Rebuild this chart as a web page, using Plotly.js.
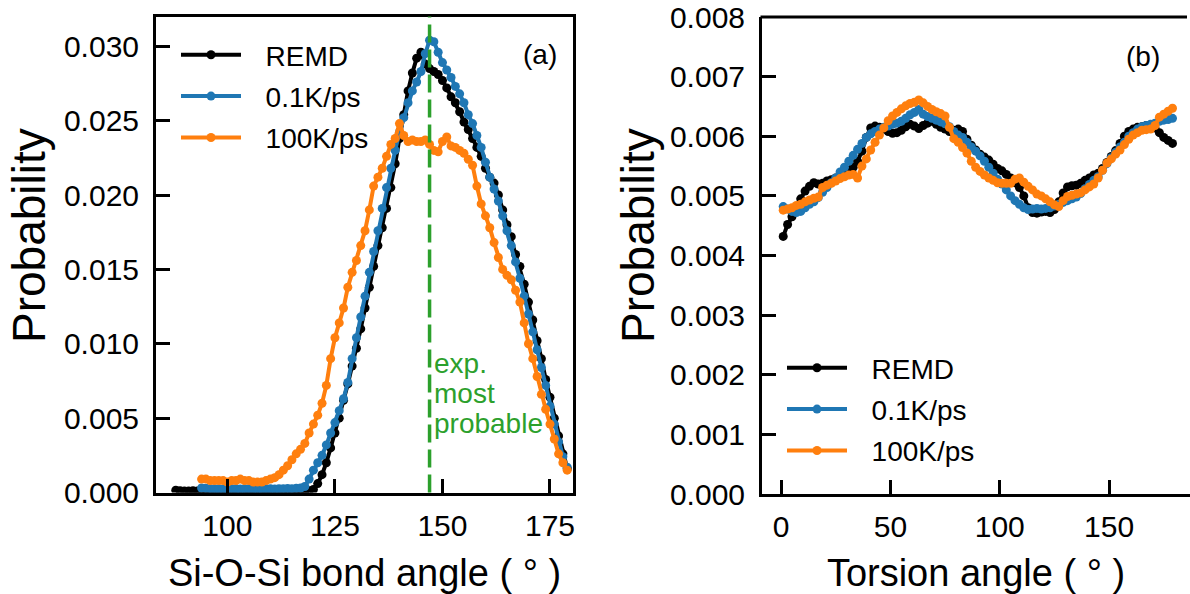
<!DOCTYPE html>
<html><head><meta charset="utf-8">
<script src="https://cdn.plot.ly/plotly-3.0.1.min.js"></script>
<style>html,body{margin:0;padding:0;background:#fff}#chart{width:1190px;height:594px}</style>
</head><body><div id="chart"></div><script>
// ---------- data ----------
const seriesNames = ['REMD', '0.1K/ps', '100K/ps'];
const seriesColors = ['#000000', '#1f77b4', '#ff7f0e'];
const expMostProbableAngle = 147;

// (a) Si-O-Si bond angle distribution
const bondAngleREMD = [88,89,90,91,92,93,94,95,96,97,98,99,100,101,102,103,104,105,106,107,108,109,110,111,112,113,114,115,116,117,118,119,120,121,122,123,124,125,126,127,128,129,130,131,132,133,134,135,136,137,138,139,140,141,142,143,144,145,146,147,148,149,150,151,152,153,154,155,156,157,158,159,160,161,162,163,164,165,166,167,168,169,170,171,172,173,174,175,176,177,178,179];
const probBondREMD = [0.00015,0.00012,0.0001,0.0001,0.00011,0.0001,
  0.0001,0.00009,0.0001,0.00011,0.0001,0.00009,0.0001,0.0001,0.00011,0.0001,0.00009,0.0001,0.0001,0.0001,0.00011,0.0001,0.00009,0.0001,0.0001,0.00011,0.0001,0.0001,0.00009,0.0001,0.0001,0.00011,
  0.0002,0.0006,0.0012,0.0020,0.0030,0.0040,0.0050,0.0062,0.0073,0.0085,
  0.0097,0.0110,0.0124,0.0138,0.0152,0.0166,0.0178,0.0191,0.0205,0.0221,
  0.0238,0.0254,0.0270,0.0282,0.0292,0.0296,0.0288,0.0285,0.0283,0.0281,
  0.0277,0.0272,0.0266,0.0262,0.0256,0.0249,0.0244,0.0238,0.0232,0.0226,
  0.0218,0.0212,0.0208,0.0200,0.0190,0.0180,0.0172,0.0160,0.0152,0.0140,
  0.0128,0.0116,0.0102,0.0090,0.0076,0.0064,0.0050,0.0038,0.0026,0.0016];

const bondAngleRun = [94,95,96,97,98,99,100,101,102,103,104,105,106,107,108,109,110,111,112,113,114,115,116,117,118,119,120,121,122,123,124,125,126,127,128,129,130,131,132,133,134,135,136,137,138,139,140,141,142,143,144,145,146,147,148,149,150,151,152,153,154,155,156,157,158,159,160,161,162,163,164,165,166,167,168,169,170,171,172,173,174,175,176,177,178,179];
const probBondSlow = [0.0003,0.00028,0.00026,0.00025,0.00025,0.00024,0.00025,0.00026,0.00025,0.00024,0.00025,0.00026,0.00025,0.00024,0.00025,0.00026,0.00025,0.00024,0.00025,0.00026,0.00027,0.00026,0.00028,0.0003,
  0.0004,0.0009,0.0015,0.0020,0.0025,0.0032,0.0040,0.0047,0.0055,0.0063,0.0074,0.0090,
  0.0104,0.0118,0.0132,0.0148,0.0162,0.0176,0.0191,0.0205,0.0218,0.0230,
  0.0242,0.0252,0.0262,0.0270,0.0276,0.0283,0.0295,0.0304,0.0303,0.0296,
  0.0289,0.0284,0.0279,0.0273,0.0268,0.0262,0.0254,0.0248,0.0240,0.0232,
  0.0222,0.0212,0.0204,0.0196,0.0186,0.0176,0.0166,0.0155,0.0144,0.0132,
  0.0120,0.0108,0.0096,0.0084,0.0072,0.0058,0.0046,0.0034,0.0024,0.0017];
const probBondFast = [0.0009,0.0009,0.0008,0.0008,0.0008,0.0008,0.0007,0.0008,0.0008,0.0009,
  0.0008,0.0008,0.0007,0.0007,0.0007,0.0008,0.0009,0.0010,0.0012,0.0015,
  0.0018,0.0022,0.0026,0.0029,0.0033,0.0040,0.0046,0.0052,0.0060,0.0072,
  0.0090,0.0104,0.0114,0.0124,0.0138,0.0148,0.0156,0.0166,0.0176,0.0190,
  0.0206,0.0212,0.0218,0.0226,0.0234,0.0238,0.0248,0.0240,0.0236,0.0237,
  0.0236,0.0236,0.0237,0.0234,0.0230,0.0229,0.0236,0.0239,0.0233,0.0232,
  0.0230,0.0228,0.0224,0.0220,0.0206,0.0194,0.0186,0.0178,0.0168,0.0158,
  0.0150,0.0146,0.0143,0.0136,0.0128,0.0114,0.0100,0.0090,0.0078,0.0066,
  0.0056,0.0046,0.0036,0.0026,0.0020,0.0015];

// (b) torsion angle distribution
const torsionAngle = [1,3,5,7,9,11,13,15,17,19,21,23,25,27,29,31,33,35,37,39,41,43,45,47,49,51,53,55,57,59,61,63,65,67,69,71,73,75,77,79,81,83,85,87,89,91,93,95,97,99,101,103,105,107,109,111,113,115,117,119,121,123,125,127,129,131,133,135,137,139,141,143,145,147,149,151,153,155,157,159,161,163,165,167,169,171,173,175,177,179];
const probTorsREMD = [0.00432,0.00452,0.00465,0.00482,0.00495,0.00508,0.00516,0.00522,0.00520,0.00521,
  0.00525,0.00527,0.00530,0.00534,0.00538,0.00543,0.00548,0.00558,0.00575,0.00598,
  0.00614,0.00617,0.00615,0.00612,0.00608,0.00605,0.00606,0.00610,0.00616,0.00620,
  0.00617,0.00613,0.00618,0.00622,0.00625,0.00620,0.00615,0.00612,0.00608,0.00610,
  0.00612,0.00608,0.00595,0.00585,0.00577,0.00570,0.00565,0.00560,0.00553,0.00546,
  0.00542,0.00536,0.00530,0.00522,0.00514,0.00500,0.00480,0.00472,0.00471,0.00473,
  0.00474,0.00472,0.00477,0.00490,0.00505,0.00515,0.00517,0.00518,0.00521,0.00526,
  0.00530,0.00535,0.00538,0.00546,0.00556,0.00566,0.00576,0.00588,0.00600,0.00608,
  0.00612,0.00615,0.00616,0.00618,0.00615,0.00614,0.00606,0.00598,0.00593,0.00588];
const probTorsSlow = [0.00482,0.00478,0.00474,0.00472,0.00474,0.00480,0.00486,0.00490,0.00497,0.00506,
  0.00514,0.00522,0.00530,0.00540,0.00548,0.00558,0.00568,0.00578,0.00588,0.00598,
  0.00604,0.00608,0.00612,0.00615,0.00617,0.00620,0.00622,0.00625,0.00630,0.00636,
  0.00640,0.00645,0.00637,0.00633,0.00630,0.00627,0.00624,0.00621,0.00616,0.00608,
  0.00602,0.00598,0.00590,0.00582,0.00575,0.00567,0.00558,0.00548,0.00538,0.00528,
  0.00520,0.00510,0.00500,0.00492,0.00486,0.00480,0.00477,0.00478,0.00479,0.00478,
  0.00479,0.00480,0.00483,0.00486,0.00489,0.00492,0.00495,0.00498,0.00504,0.00512,
  0.00519,0.00526,0.00532,0.00543,0.00554,0.00564,0.00573,0.00582,0.00590,0.00600,
  0.00606,0.00612,0.00616,0.00618,0.00620,0.00622,0.00625,0.00627,0.00628,0.00630];
const probTorsFast = [0.00476,0.00478,0.00480,0.00484,0.00486,0.00490,0.00493,0.00496,0.00498,0.00514,
  0.00518,0.00521,0.00525,0.00529,0.00532,0.00535,0.00536,0.00530,0.00550,0.00562,
  0.00577,0.00590,0.00602,0.00614,0.00626,0.00634,0.00640,0.00646,0.00651,0.00655,
  0.00657,0.00661,0.00656,0.00650,0.00645,0.00641,0.00638,0.00634,0.00615,0.00596,
  0.00590,0.00581,0.00572,0.00558,0.00548,0.00541,0.00535,0.00530,0.00526,0.00522,
  0.00521,0.00521,0.00521,0.00528,0.00530,0.00523,0.00516,0.00510,0.00503,0.00500,
  0.00495,0.00490,0.00485,0.00482,0.00492,0.00499,0.00501,0.00503,0.00505,0.00510,
  0.00515,0.00520,0.00530,0.00543,0.00555,0.00562,0.00570,0.00577,0.00586,0.00595,
  0.00602,0.00606,0.00610,0.00611,0.00612,0.00618,0.00632,0.00637,0.00642,0.00647];

const xTicksA = [100, 125, 150, 175];
const xTicksB = [0, 50, 100, 150];
const yTicksA = [0, 0.005, 0.010, 0.015, 0.020, 0.025, 0.030];
const yTicksB = [0, 0.001, 0.002, 0.003, 0.004, 0.005, 0.006, 0.007, 0.008];

// ---------- drawing ----------
const FONT = 'Liberation Sans, Arial, Helvetica, sans-serif';
const W = 1190, H = 594;
const px = v => v / W, py = v => 1 - v / H;
const LEGPAD = '\u2002\u2009';

function tr(x, y, i, xa, ya, leg) {
  return {
    x: x, y: y, type: 'scatter', mode: 'lines+markers', name: LEGPAD + seriesNames[i],
    line: {color: seriesColors[i], width: 4},
    marker: {color: seriesColors[i], size: 9},
    xaxis: xa, yaxis: ya, legend: leg, legendgroup: leg + i
  };
}
const data = [
  tr(bondAngleREMD, probBondREMD, 0, 'x', 'y', 'legend'),
  tr(bondAngleRun, probBondSlow, 1, 'x', 'y', 'legend'),
  tr(bondAngleRun, probBondFast, 2, 'x', 'y', 'legend'),
  tr(torsionAngle, probTorsREMD, 0, 'x2', 'y2', 'legend2'),
  tr(torsionAngle, probTorsSlow, 1, 'x2', 'y2', 'legend2'),
  tr(torsionAngle, probTorsFast, 2, 'x2', 'y2', 'legend2')
];

const tickFont = {family: FONT, size: 30, color: '#000'};
const titleFont = {family: FONT, size: 38, color: '#000'};
const yTitleFont = {family: FONT, size: 46, color: '#000'};
const axBase = {
  showline: true, linecolor: '#000', linewidth: 3,
  ticks: 'inside', ticklen: 14, tickwidth: 3, tickcolor: '#000',
  showgrid: false, zeroline: false, tickfont: tickFont, fixedrange: true
};
const legBase = {
  font: {family: FONT, size: 28, color: '#000'}, bgcolor: 'rgba(0,0,0,0)',
  borderwidth: 0, itemwidth: 60, tracegroupgap: 2, xanchor: 'left', yanchor: 'top',
  itemclick: false, itemdoubleclick: false
};

const layout = {
  width: W, height: H, margin: {l: 0, r: 0, t: 0, b: 0},
  paper_bgcolor: '#fff', plot_bgcolor: 'rgba(0,0,0,0)',
  showlegend: true,
  xaxis: Object.assign({}, axBase, {
    domain: [px(156), px(573)], range: [83.4, 180.35], mirror: true,
    tickvals: xTicksA, ticklabelstandoff: 4,
    title: {text: 'Si-O-Si bond angle ( ° )', font: titleFont, standoff: 26}, anchor: 'y'
  }),
  yaxis: Object.assign({}, axBase, {
    domain: [py(492.5), py(16.5)], range: [0, 0.032], mirror: true,
    tickvals: yTicksA, tickformat: '.3f', ticklabelstandoff: 8, anchor: 'x'
  }),
  xaxis2: Object.assign({}, axBase, {
    domain: [px(762), 1], range: [-8.7, 187], mirror: false,
    tickvals: xTicksB, ticklabelstandoff: 4,
    title: {text: 'Torsion angle ( ° )', font: titleFont, standoff: 26}, anchor: 'y2'
  }),
  yaxis2: Object.assign({}, axBase, {
    domain: [py(494), py(17)], range: [0, 0.008], mirror: false,
    tickvals: yTicksB, tickformat: '.3f', ticklabelstandoff: 8, anchor: 'x2'
  }),
  legend: Object.assign({}, legBase, {x: px(176), y: py(30)}),
  legend2: Object.assign({}, legBase, {x: px(782), y: py(343)}),
  shapes: [
    {type: 'line', xref: 'x', yref: 'y domain', x0: expMostProbableAngle, x1: expMostProbableAngle,
     y0: 0, y1: 1, layer: 'above', line: {color: '#2ca02c', width: 3.5, dash: '18px,7px'}},
    {type: 'line', xref: 'paper', yref: 'paper', x0: px(760.5), x1: px(1187), y0: py(17), y1: py(17),
     line: {color: '#000', width: 3}}
  ],
  annotations: [
    {text: 'Probability', xref: 'paper', yref: 'paper', x: px(29), y: py(236), showarrow: false,
     textangle: -90, xanchor: 'center', yanchor: 'middle', font: yTitleFont},
    {text: 'Probability', xref: 'paper', yref: 'paper', x: px(638), y: py(236), showarrow: false,
     textangle: -90, xanchor: 'center', yanchor: 'middle', font: yTitleFont},
    {text: '(a)', xref: 'paper', yref: 'paper', x: px(539.5), y: py(55), showarrow: false,
     xanchor: 'center', yanchor: 'middle', font: {family: FONT, size: 28, color: '#000'}},
    {text: '(b)', xref: 'paper', yref: 'paper', x: px(1143), y: py(57), showarrow: false,
     xanchor: 'center', yanchor: 'middle', font: {family: FONT, size: 28, color: '#000'}},
    {text: 'exp.', xref: 'paper', yref: 'paper', x: px(432), y: py(363), showarrow: false,
     xanchor: 'left', yanchor: 'middle', font: {family: FONT, size: 28, color: '#2ca02c'}},
    {text: 'most', xref: 'paper', yref: 'paper', x: px(432), y: py(393), showarrow: false,
     xanchor: 'left', yanchor: 'middle', font: {family: FONT, size: 28, color: '#2ca02c'}},
    {text: 'probable', xref: 'paper', yref: 'paper', x: px(432), y: py(423), showarrow: false,
     xanchor: 'left', yanchor: 'middle', font: {family: FONT, size: 28, color: '#2ca02c'}}
  ]
};

Plotly.newPlot('chart', data, layout, {staticPlot: true, displayModeBar: false});
</script></body></html>
